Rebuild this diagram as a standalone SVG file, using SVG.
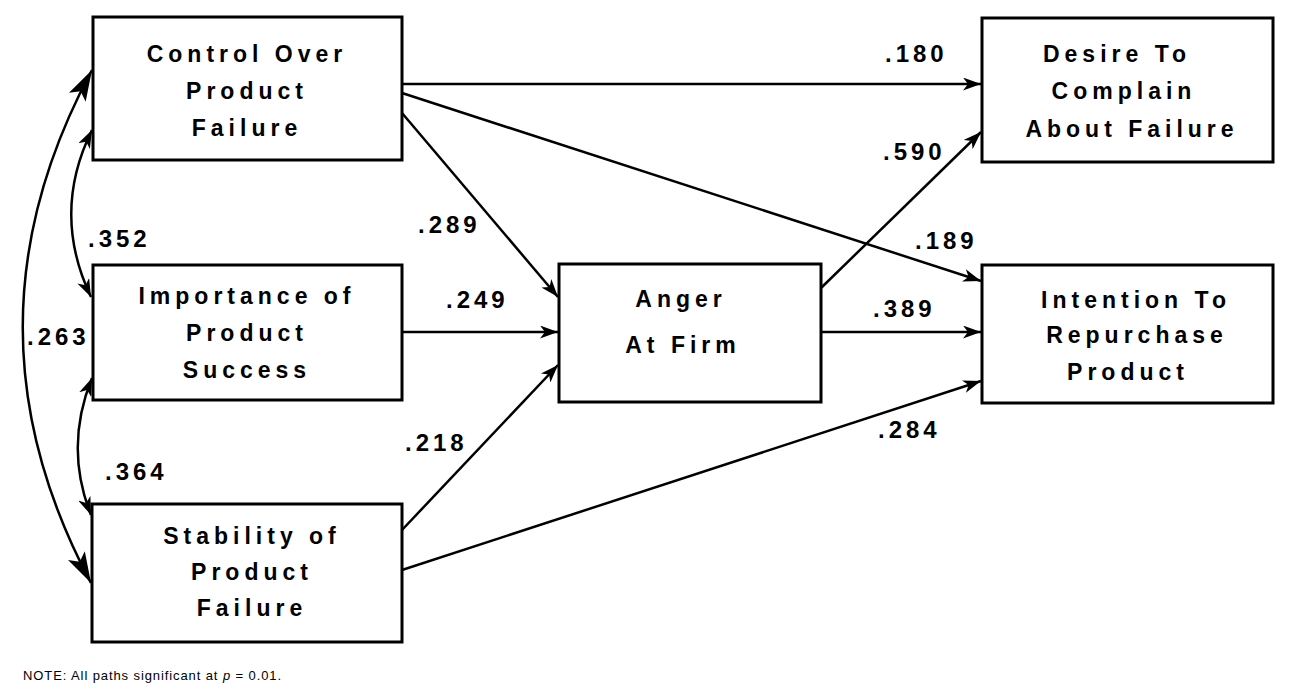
<svg xmlns="http://www.w3.org/2000/svg" width="1305" height="700" viewBox="0 0 1305 700">
<style>
.box{fill:#fff;stroke:#000;stroke-width:3}
.nt{font-family:"Liberation Sans",Arial,sans-serif;font-weight:bold;font-size:23px;letter-spacing:5px;text-anchor:middle;fill:#000}
.lbl{font-family:"Liberation Sans",Arial,sans-serif;font-weight:bold;font-size:24px;letter-spacing:4px;fill:#000}
.note{font-family:"Liberation Sans",Arial,sans-serif;font-size:13px;letter-spacing:0.9px;fill:#000}
.c{fill:none;stroke:#000;stroke-width:2.5}
</style>
<defs>
<marker id="ah" markerUnits="userSpaceOnUse" markerWidth="19" markerHeight="13" refX="18" refY="6.5" orient="auto-start-reverse">
<path d="M0,0 L18,6.5 L0,13 L5,6.5 z" fill="#000"/>
</marker>
<marker id="ahb" markerUnits="userSpaceOnUse" markerWidth="32" markerHeight="19" refX="31" refY="9.5" orient="auto-start-reverse">
<path d="M0,0 L31,9.5 L0,19 L7,9.5 z" fill="#000"/>
</marker>
</defs>
<g id="connectors">
<line class="c" x1="402" y1="84" x2="981" y2="84" marker-end="url(#ah)"/>
<line class="c" x1="402" y1="93" x2="981" y2="281" marker-end="url(#ah)"/>
<line class="c" x1="402" y1="113" x2="558" y2="297" marker-end="url(#ah)"/>
<line class="c" x1="402" y1="332" x2="558" y2="332" marker-end="url(#ah)"/>
<line class="c" x1="402" y1="530" x2="558" y2="365" marker-end="url(#ah)"/>
<line class="c" x1="402" y1="570" x2="981" y2="381" marker-end="url(#ah)"/>
<line class="c" x1="821" y1="288" x2="981" y2="132" marker-end="url(#ah)"/>
<line class="c" x1="821" y1="332" x2="981" y2="332" marker-end="url(#ah)"/>
<path class="c" d="M92,130 Q51,213 91,297" marker-start="url(#ah)" marker-end="url(#ah)"/>
<path class="c" d="M92,378 Q64,447 91,515" marker-start="url(#ah)" marker-end="url(#ah)"/>
<path class="c" d="M92,70 Q-46,326 91,583" marker-start="url(#ahb)" marker-end="url(#ahb)"/>
</g>
<g id="control">
<rect class="box" x="93" y="17" width="309" height="143"/>
<text class="nt" x="247" y="62">Control Over</text>
<text class="nt" x="247" y="99">Product</text>
<text class="nt" x="247" y="136">Failure</text>
</g>
<g id="importance">
<rect class="box" x="93" y="265" width="309" height="135"/>
<text class="nt" x="247" y="304">Importance of</text>
<text class="nt" x="247" y="341">Product</text>
<text class="nt" x="247" y="378">Success</text>
</g>
<g id="stability">
<rect class="box" x="92" y="504" width="310" height="138"/>
<text class="nt" x="252" y="544">Stability of</text>
<text class="nt" x="252" y="580">Product</text>
<text class="nt" x="252" y="616">Failure</text>
</g>
<g id="anger">
<rect class="box" x="559" y="264" width="262" height="138"/>
<text class="nt" x="681" y="307">Anger</text>
<text class="nt" x="683" y="353">At Firm</text>
</g>
<g id="desire">
<rect class="box" x="982" y="18" width="291" height="144"/>
<text class="nt" x="1117" y="62">Desire To</text>
<text class="nt" x="1124" y="99">Complain</text>
<text class="nt" x="1132" y="137">About Failure</text>
</g>
<g id="intention">
<rect class="box" x="982" y="265" width="291" height="138"/>
<text class="nt" x="1136" y="308">Intention To</text>
<text class="nt" x="1137" y="343">Repurchase</text>
<text class="nt" x="1128" y="380">Product</text>
</g>
<g id="labels">
<text class="lbl" x="885" y="62">.180</text>
<text class="lbl" x="883" y="160">.590</text>
<text class="lbl" x="418" y="233">.289</text>
<text class="lbl" x="915" y="249">.189</text>
<text class="lbl" x="446" y="308">.249</text>
<text class="lbl" x="873" y="317">.389</text>
<text class="lbl" x="405" y="451">.218</text>
<text class="lbl" x="878" y="438">.284</text>
<text class="lbl" x="88" y="247">.352</text>
<text class="lbl" x="27" y="345">.263</text>
<text class="lbl" x="105" y="480">.364</text>
</g>
<text class="note" x="23" y="680">NOTE: All paths significant at <tspan font-style="italic">p</tspan> = 0.01.</text>
</svg>
